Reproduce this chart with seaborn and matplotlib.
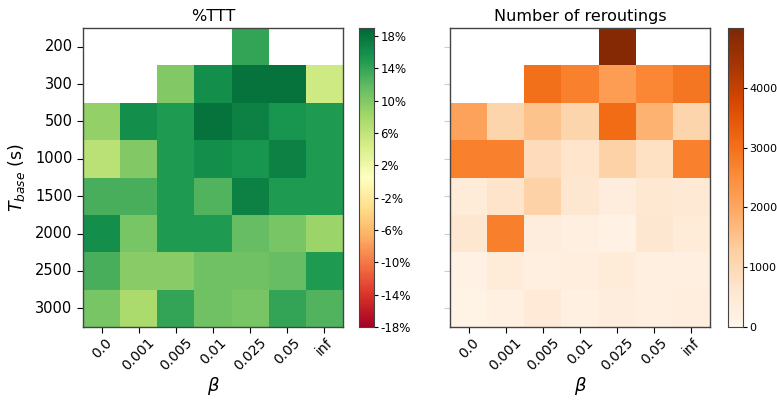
import numpy as np
import pandas as pd
import matplotlib
matplotlib.use("Agg")
import matplotlib.pyplot as plt
import seaborn as sns
from matplotlib.ticker import FuncFormatter

betas = ["0.0", "0.001", "0.005", "0.01", "0.025", "0.05", "inf"]
t_base = ["200", "300", "500", "1000", "1500", "2000", "2500", "3000"]

nan = np.nan
ttt_200 = [nan, nan, nan, nan, 14.0, nan, nan]
ttt_300 = [nan, nan, 10.0, 16.0, 18.0, 18.0, 5.0]
ttt_500 = [9.0, 16.0, 15.0, 18.0, 17.0, 15.5, 15.0]
ttt_1000 = [6.5, 10.0, 15.0, 16.0, 15.5, 17.0, 15.0]
ttt_1500 = [13.0, 13.0, 15.0, 12.5, 17.0, 15.0, 15.0]
ttt_2000 = [16.0, 10.5, 15.0, 15.0, 11.5, 10.5, 8.5]
ttt_2500 = [13.0, 9.5, 9.5, 11.0, 11.0, 11.5, 15.0]
ttt_3000 = [10.5, 7.5, 14.0, 11.0, 10.5, 14.0, 12.5]

rr_200 = [nan, nan, nan, nan, 4900, nan, nan]
rr_300 = [nan, nan, 3000, 2700, 2200, 2600, 2900]
rr_500 = [2100, 1100, 1500, 1100, 3100, 1800, 1100]
rr_1000 = [2700, 2700, 900, 650, 1200, 800, 2700]
rr_1500 = [400, 700, 1200, 600, 350, 550, 500]
rr_2000 = [600, 2750, 350, 250, 150, 600, 400]
rr_2500 = [150, 400, 250, 300, 400, 250, 250]
rr_3000 = [100, 200, 450, 200, 350, 250, 300]

ttt = pd.DataFrame([ttt_200, ttt_300, ttt_500, ttt_1000, ttt_1500, ttt_2000, ttt_2500, ttt_3000],
                   index=t_base, columns=betas)
rr = pd.DataFrame([rr_200, rr_300, rr_500, rr_1000, rr_1500, rr_2000, rr_2500, rr_3000],
                  index=t_base, columns=betas)

W, H = 777, 400
fig = plt.figure(figsize=(W / 100, H / 100), dpi=100)

def rect(x0, y0, x1, y1):
    return [x0 / W, 1 - y1 / H, (x1 - x0) / W, (y1 - y0) / H]

ax1 = fig.add_axes(rect(83, 28, 343, 327))
cax1 = fig.add_axes(rect(359, 28, 374, 327))
ax2 = fig.add_axes(rect(450, 28, 710, 327))
cax2 = fig.add_axes(rect(728, 28, 743, 327))

sns.heatmap(ttt, ax=ax1, cbar_ax=cax1, cmap="RdYlGn", vmin=-18, vmax=19,
            cbar_kws={"ticks": np.arange(-18, 19, 4),
                      "format": FuncFormatter(lambda v, p: f"{int(round(v))}%")})
sns.heatmap(rr, ax=ax2, cbar_ax=cax2, cmap="Oranges", vmin=0, vmax=5000,
            cbar_kws={"ticks": [0, 1000, 2000, 3000, 4000]})

for ax in (ax1, ax2):
    for s in ax.spines.values():
        s.set_visible(True)
        s.set_color("#444444")
        s.set_linewidth(1.0)
    ax.tick_params(axis="x", labelsize=10, length=4, pad=2)
    ax.tick_params(axis="y", labelsize=10.5, rotation=0, length=4)
    ax.set_xlabel(r"$\beta$", fontsize=13, labelpad=1)
    for lbl in ax.get_xticklabels():
        lbl.set_rotation(45)
        lbl.set_ha("center")

for cax in (cax1, cax2):
    cax.tick_params(labelsize=8.5, length=3, pad=1.5)
    for s in cax.spines.values():
        s.set_visible(True)
        s.set_color("#444444")
cax2.tick_params(labelsize=8)

ax1.set_ylabel(r"$T_{base}$ (s)", fontsize=12.5, labelpad=6)
ax2.set_ylabel("")
ax2.set_yticklabels([])
ax2.tick_params(axis="y", color="#cccccc")

ax1.set_title("%TTT", fontsize=11.5, pad=5)
ax2.set_title("Number of reroutings", fontsize=11.5, pad=5)

fig.savefig("out.png", dpi=100)
